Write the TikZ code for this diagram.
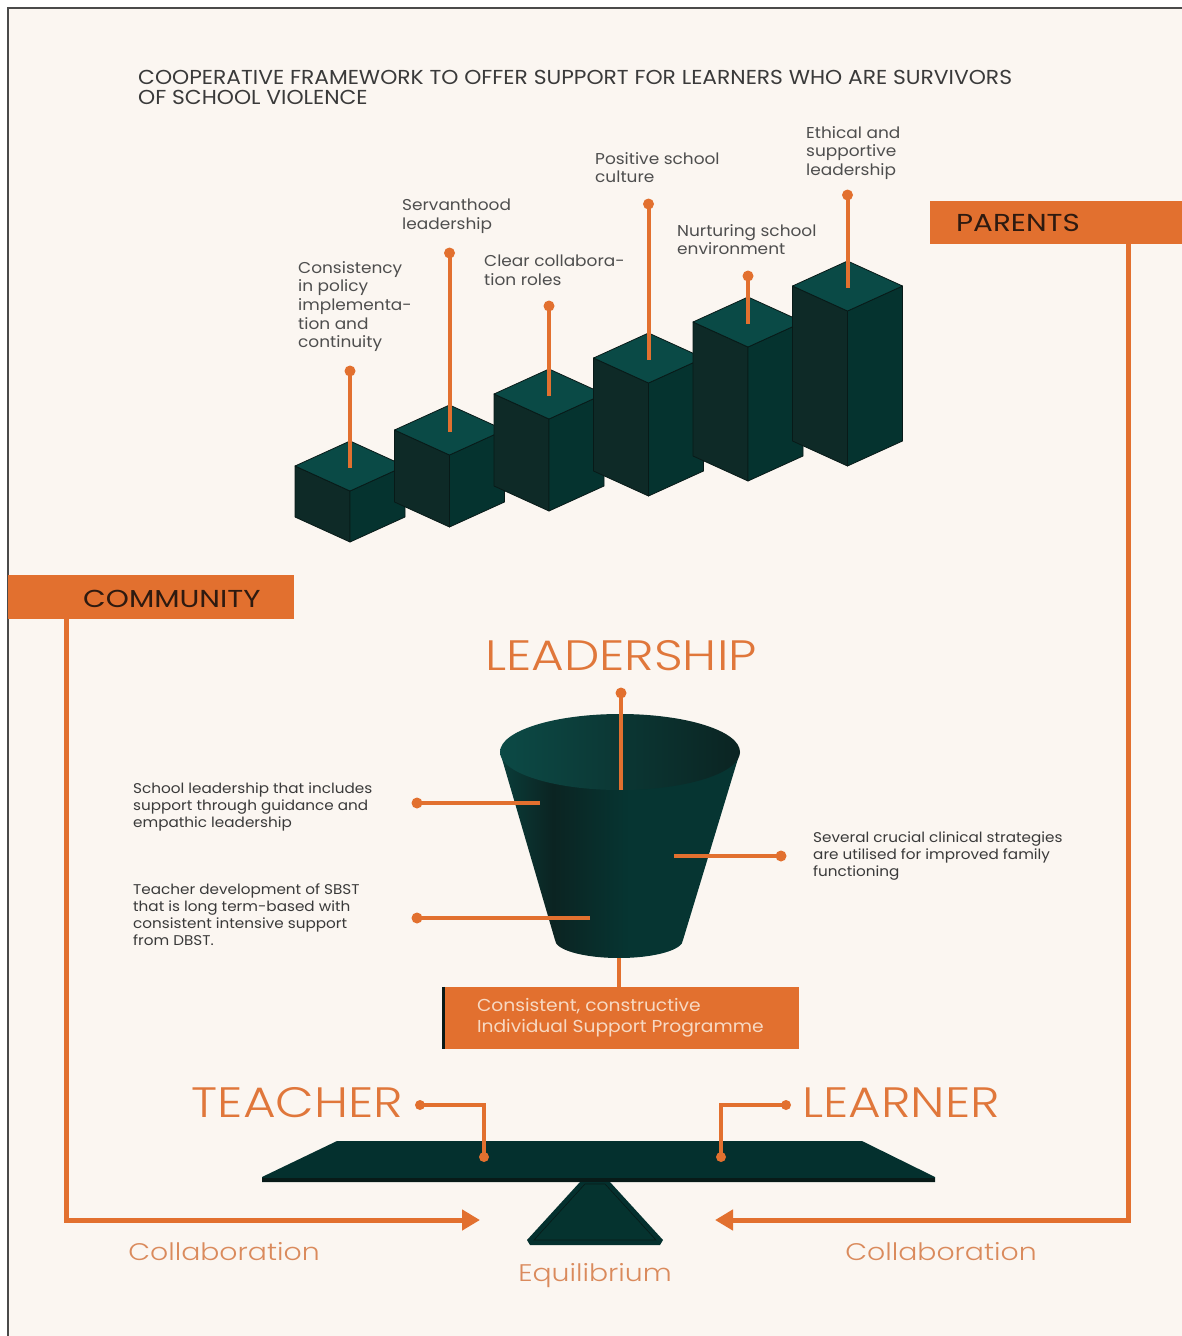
\documentclass[tikz,border=0pt]{standalone}
\usepackage{fontspec}
\setmainfont{Poppins}[FakeStretch=1.08]
\newfontfamily\thinfont{Poppins}[UprightFont=* Light, FakeStretch=1.18]
\newfontfamily\tagfont{Poppins}[FakeStretch=1.2]
\usetikzlibrary{positioning,arrows.meta,calc}

\definecolor{paper}{HTML}{FBF6F1}
\definecolor{framegray}{HTML}{4A4A4A}
\definecolor{rust}{HTML}{E2702F}
\definecolor{rustlight}{HTML}{DA8A5C}
\definecolor{rusttext}{HTML}{E0773B}
\definecolor{inktext}{HTML}{3A3A3A}
\definecolor{greytext}{HTML}{4E4E4E}
\definecolor{tagink}{HTML}{2E1A10}
\definecolor{boxtext}{HTML}{F7D9C3}
\definecolor{tealtop}{HTML}{0A4A46}
\definecolor{tealleft}{HTML}{0E2A27}
\definecolor{tealright}{HTML}{05332F}
\definecolor{tealedge}{HTML}{081A18}
\definecolor{plank}{HTML}{04302E}
\definecolor{funneldark}{HTML}{0B2422}
\definecolor{funnelmid}{HTML}{063532}
\definecolor{funnelsoft}{HTML}{0A3D3A}
\definecolor{funnellit}{HTML}{0C4A46}

\pgfdeclarehorizontalshading{funnelbody}{100bp}{color(0bp)=(funnelsoft); color(25bp)=(funnelsoft); color(36bp)=(funneldark); color(52bp)=(funnelmid); color(75bp)=(funnelmid); color(100bp)=(funnelmid)}

\tikzset{
  bartop/.style={fill=tealtop, draw=tealedge, line width=0.8pt, line join=round},
  barleft/.style={fill=tealleft, draw=tealedge, line width=0.8pt, line join=round},
  barright/.style={fill=tealright, draw=tealedge, line width=0.8pt, line join=round},
  stick/.style={draw=rust, line width=4pt},
  pindot/.style={fill=rust},
  barlabel/.style={anchor=north west, inner sep=0pt, align=left, text=greytext,
                   font=\fontsize{15.7}{18.7}\selectfont},
  sidenote/.style={anchor=north west, inner sep=0pt, align=left, text=inktext,
                   font=\fontsize{14.1}{17}\selectfont},
  bigword/.style={anchor=base, inner sep=0pt, text=rusttext, font=\thinfont\fontsize{42.5}{42.5}\selectfont},
  softword/.style={anchor=base, inner sep=0pt, text=rustlight, font=\thinfont\fontsize{24}{24}\selectfont},
  tagword/.style={anchor=base west, inner sep=0pt, text=tagink, font=\tagfont\fontsize{24.5}{24.5}\selectfont},
  bigline/.style={draw=rust, line width=5pt},
  flowarrow/.style={bigline, -{Triangle[length=18pt,width=20pt]}},
  ispbox/.style={fill=rust, minimum width=357pt, minimum height=62pt, inner sep=0pt},
  isptext/.style={anchor=west, inner sep=0pt, align=left, text=boxtext,
                  font=\fontsize{17.3}{21}\selectfont},
}

\begin{document}
\begin{tikzpicture}[x=1pt, y=-1pt]
  \useasboundingbox (0,0) rectangle (1182,1336);
  \fill[white] (0,0) rectangle (1182,1336);
  \fill[paper] (8,8) rectangle (1182,1336);
  \draw[framegray, line width=1.5pt] (8,1336) -- (8,8) -- (1182,8);

  % Title
  \node[anchor=north west, inner sep=0pt, align=left, text=inktext,
        font=\fontsize{20.2}{20}\selectfont] (title) at (138,70)
        {COOPERATIVE FRAMEWORK TO OFFER SUPPORT FOR LEARNERS WHO ARE SURVIVORS\\OF SCHOOL VIOLENCE};

  % Stepped blocks
  \foreach \i/\cx/\tp/\bt in {1/350/466/542, 2/449.5/430/527, 3/549/394/511,
                              4/648.5/358/496, 5/748/322/481, 6/847.5/286/466}{
    \fill[barleft] ({\cx-55},\tp) -- (\cx,{\tp+25}) -- (\cx,\bt) -- ({\cx-55},{\bt-25}) -- cycle;
    \fill[barright] (\cx,{\tp+25}) -- ({\cx+55},\tp) -- ({\cx+55},{\bt-25}) -- (\cx,\bt) -- cycle;
    \fill[bartop] ({\cx-55},\tp) -- (\cx,{\tp-25}) -- ({\cx+55},\tp) -- (\cx,{\tp+25}) -- cycle;
    \coordinate (top\i) at (\cx,{\tp+2});
  }

  % Pins on the blocks
  \coordinate (pin1) at (350,371);
  \coordinate (pin2) at (449.5,253);
  \coordinate (pin3) at (549,306);
  \coordinate (pin4) at (648.5,204);
  \coordinate (pin5) at (748,276);
  \coordinate (pin6) at (847.5,195);
  \foreach \i in {1,...,6}{
    \draw[stick] (pin\i) -- (top\i);
    \fill[pindot] (pin\i) circle (5.5pt);
  }

  \node[barlabel] (lab1) at (298,261) {Consistency\\in policy\\implementa-\\tion and\\continuity};
  \node[barlabel] (lab2) at (402,199) {Servanthood\\leadership};
  \node[barlabel] (lab3) at (484,255) {Clear collabora-\\tion roles};
  \node[barlabel] (lab4) at (595,152) {Positive school\\culture};
  \node[barlabel] (lab5) at (677,224) {Nurturing school\\environment};
  \node[barlabel] (lab6) at (806,126) {Ethical and\\supportive\\leadership};

  % Parents and community tags
  \fill[rust] (930,201) rectangle (1182,244);
  \node[tagword] (parents) at (956,231) {PARENTS};
  \fill[rust] (8,575) rectangle (294,619);
  \node[tagword] (community) at (83,607) {COMMUNITY};

  % Funnel
  \node[bigword] (leadership) at (621,670) {LEADERSHIP};
  \shade[shading=funnelbody] (500,752) -- (555,940)
      arc[start angle=180, end angle=360, x radius=64pt, y radius=18pt] -- (740,752) -- cycle;
  \shade[left color=funnellit, right color=funneldark] (620,752) ellipse [x radius=120pt, y radius=38pt];

  \coordinate (leaddot) at (621,693);
  \coordinate (leadend) at (621,790);
  \draw[stick] (leaddot) -- (leadend);
  \fill[pindot] (leaddot) circle (5.5pt);

  \coordinate (ldot1) at (417,803);
  \coordinate (lend1) at (540,803);
  \coordinate (ldot2) at (417,918);
  \coordinate (lend2) at (590,918);
  \coordinate (rend) at (674,856);
  \coordinate (rdot) at (781,856);
  \draw[stick] (ldot1) -- (lend1);
  \draw[stick] (ldot2) -- (lend2);
  \draw[stick] (rend) -- (rdot);
  \fill[pindot] (ldot1) circle (5.5pt);
  \fill[pindot] (ldot2) circle (5.5pt);
  \fill[pindot] (rdot) circle (5.5pt);

  \node[sidenote] (note1) at (133,783) {School leadership that includes\\support through guidance and\\empathic leadership};
  \node[sidenote] (note2) at (133,884) {Teacher development of SBST\\that is long term-based with\\consistent intensive support\\from DBST.};
  \node[sidenote] (note3) at (813,832) {Several crucial clinical strategies\\are utilised for improved family\\functioning};

  % Support programme box
  \node[ispbox] (isp) at (620.5,1018) {};
  \node[isptext, right=35pt of isp.west] (isplabel) {Consistent, constructive\\Individual Support Programme};
  \draw[tealedge, line width=3pt] ([xshift=1.5pt]isp.north west) -- ([xshift=1.5pt]isp.south west);
  \coordinate (funnelbase) at (619,958);
  \draw[stick] (funnelbase) -- (funnelbase |- isp.north);

  % Seesaw
  \fill[plank] (337,1141) -- (862,1141) -- (935,1177) -- (935,1182) -- (262,1182) -- (262,1177) -- cycle;
  \fill[tealedge] (262,1178) -- (935,1178) -- (935,1182) -- (262,1182) -- cycle;
  \fill[plank] (580,1182) -- (610,1182) -- (663,1240) -- (660,1245) -- (530,1245) -- (527,1240) -- cycle;
  \fill[tealright, draw=tealedge, line width=0.6pt] (585,1184) -- (605,1184) -- (656,1240) -- (534,1240) -- cycle;

  \node[bigword] (teacher) at (297.5,1117) {TEACHER};
  \node[bigword] (learner) at (901,1117) {LEARNER};
  \coordinate (tdot) at (420,1105);
  \coordinate (tpin) at (484,1157);
  \coordinate (ldot) at (786,1105);
  \coordinate (lpin) at (721,1157);
  \draw[stick, line width=3.5pt] (tdot) -| (tpin);
  \draw[stick, line width=3.5pt] (ldot) -| (lpin);
  \foreach \p in {tdot,tpin,ldot,lpin}
    \fill[pindot] (\p) circle (5pt);

  % Collaboration flows
  \coordinate (tipL) at (480,1220);
  \coordinate (tipR) at (715,1220);
  \draw[flowarrow] (66,619) |- (tipL);
  \draw[flowarrow] (1128,244) |- (tipR);
  \node[softword] (collabL) at (224,1260) {Collaboration};
  \node[softword] (collabR) at (941,1260) {Collaboration};
  \node[softword] (equilibrium) at (595,1281) {Equilibrium};
\end{tikzpicture}
\end{document}
